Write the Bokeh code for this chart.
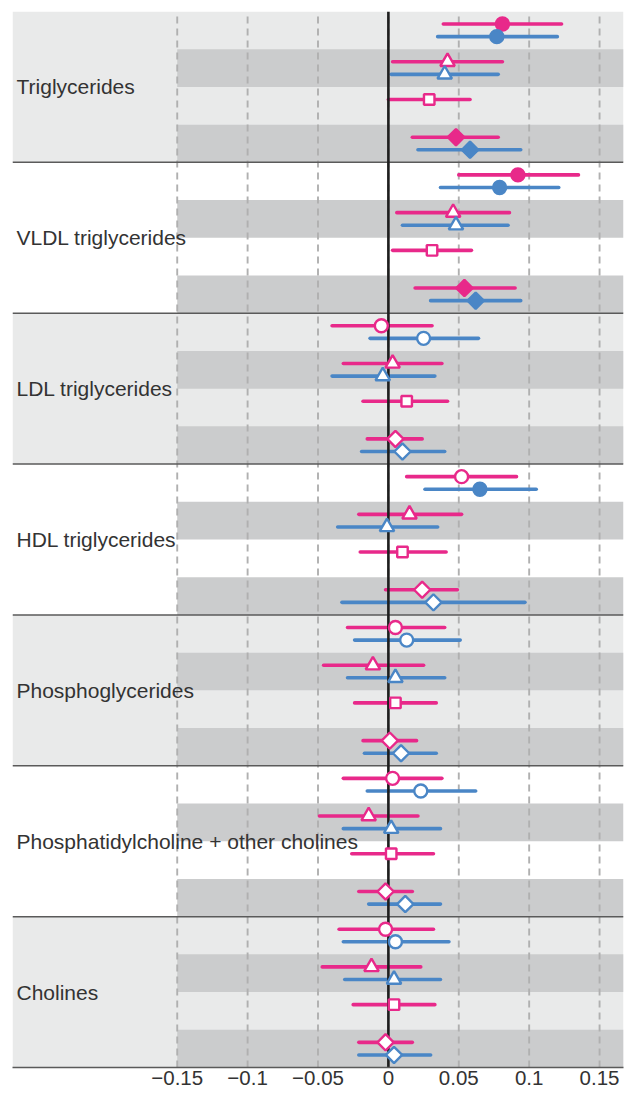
import numpy as np
from bokeh.plotting import figure
from bokeh.models import Range1d, ColumnDataSource, FixedTicker
from bokeh.core.properties import value
from bokeh.embed import file_html
from bokeh.resources import INLINE

groups = ["Triglycerides", "VLDL triglycerides", "LDL triglycerides", "HDL triglycerides",
          "Phosphoglycerides", "Phosphatidylcholine + other cholines", "Cholines"]
row_markers = ["circle", "triangle", "square", "diamond"]
x_ticks = [-0.15, -0.1, -0.05, 0, 0.05, 0.1, 0.15]
x_tick_labels = ["\u22120.15", "\u22120.1", "\u22120.05", "0", "0.05", "0.1", "0.15"]

# pink series (4 rows per group)
pink_est = [0.081, 0.042, 0.029, 0.048,
            0.092, 0.046, 0.031, 0.054,
            -0.005, 0.003, 0.013, 0.005,
            0.052, 0.015, 0.010, 0.024,
            0.005, -0.011, 0.005, 0.001,
            0.003, -0.014, 0.002, -0.002,
            -0.002, -0.012, 0.004, -0.002]
pink_lo = [0.039, 0.003, 0.000, 0.017,
           0.050, 0.006, 0.003, 0.019,
           -0.040, -0.032, -0.018, -0.015,
           0.013, -0.021, -0.020, -0.002,
           -0.029, -0.046, -0.024, -0.018,
           -0.032, -0.049, -0.026, -0.021,
           -0.035, -0.047, -0.025, -0.021]
pink_hi = [0.123, 0.081, 0.058, 0.078,
           0.135, 0.086, 0.059, 0.090,
           0.031, 0.038, 0.042, 0.024,
           0.091, 0.052, 0.041, 0.049,
           0.040, 0.025, 0.034, 0.020,
           0.038, 0.021, 0.032, 0.017,
           0.032, 0.023, 0.033, 0.017]
pink_filled = [1, 0, 0, 1,
               1, 0, 0, 1,
               0, 0, 0, 0,
               0, 0, 0, 0,
               0, 0, 0, 0,
               0, 0, 0, 0,
               0, 0, 0, 0]

# blue series (no value in the square row)
blue_est = [0.077, 0.040, None, 0.058,
            0.079, 0.048, None, 0.062,
            0.025, -0.004, None, 0.010,
            0.065, -0.001, None, 0.032,
            0.013, 0.005, None, 0.009,
            0.023, 0.002, None, 0.012,
            0.005, 0.004, None, 0.004]
blue_lo = [0.035, 0.002, None, 0.021,
           0.037, 0.010, None, 0.030,
           -0.013, -0.040, None, -0.019,
           0.026, -0.036, None, -0.033,
           -0.024, -0.029, None, -0.017,
           -0.015, -0.032, None, -0.014,
           -0.032, -0.031, None, -0.021]
blue_hi = [0.120, 0.078, None, 0.094,
           0.121, 0.085, None, 0.094,
           0.064, 0.033, None, 0.040,
           0.105, 0.035, None, 0.097,
           0.051, 0.040, None, 0.034,
           0.062, 0.037, None, 0.037,
           0.043, 0.037, None, 0.030]
blue_filled = [1, 0, 0, 1,
               1, 0, 0, 1,
               0, 0, 0, 0,
               1, 0, 0, 0,
               0, 0, 0, 0,
               0, 0, 0, 0,
               0, 0, 0, 0]

PINK = "#E8298A"
BLUE = "#4A86C6"
LIGHT = "#E9EAEA"
DARK = "#CBCCCD"
TEXT = "#333333"

n_groups = len(groups)
n_rows = 4 * n_groups
x_start, x_end = -0.267, 0.167
off = 0.167

p = figure(width=636, height=1093, output_backend="svg", toolbar_location=None,
           x_range=Range1d(x_start, x_end), y_range=Range1d(0, n_rows),
           min_border_left=12, min_border_right=13, min_border_top=11, min_border_bottom=26)
p.outline_line_color = None
p.xgrid.visible = False
p.ygrid.visible = False
p.yaxis.visible = False

# group backgrounds
g_top = [n_rows - 4 * g for g in range(n_groups)]
light_g = [g for g in range(n_groups) if g % 2 == 0]
p.quad(left=x_start, right=x_end, top=[g_top[g] for g in light_g],
       bottom=[g_top[g] - 4 for g in light_g], fill_color=LIGHT, line_color=None)
# darker row bands (rows 2 and 4 of each group)
dark_top = [n_rows - i for i in range(n_rows) if i % 4 in (1, 3)]
p.quad(left=x_ticks[0], right=x_end, top=dark_top, bottom=[t - 1 for t in dark_top],
       fill_color=DARK, line_color=None)

# dashed grid lines
p.segment(x0=x_ticks, x1=x_ticks, y0=0, y1=n_rows, line_color="#B0B0B0",
          line_width=1.9, line_dash="7 5")

# group separators
seps = [n_rows - 4 * g for g in range(1, n_groups)]
p.segment(x0=x_start, x1=x_end, y0=seps, y1=seps, line_color="#5A5A5A", line_width=1.5)


def series(est, lo, hi, filled, color, dy):
    rows = [i for i in range(n_rows) if est[i] is not None]
    y = [n_rows - i - 0.5 + dy for i in rows]
    kinds = [row_markers[i % 4] for i in rows]
    marker = ["square" if k == "diamond" else k for k in kinds]
    angle = [np.pi / 4 if k == "diamond" else 0.0 for k in kinds]
    size = [{"circle": 13, "triangle": 14.5, "square": 10.5, "diamond": 11.5}[k] for k in kinds]
    fill = [color if filled[i] else "white" for i in rows]
    return ColumnDataSource(dict(
        y=y, est=[est[i] for i in rows], lo=[lo[i] for i in rows], hi=[hi[i] for i in rows],
        marker=marker, angle=angle, size=size, fill=fill))


src_p = series(pink_est, pink_lo, pink_hi, pink_filled, PINK, off)
src_b = series(blue_est, blue_lo, blue_hi, blue_filled, BLUE, -off)

for src, col in ((src_p, PINK), (src_b, BLUE)):
    p.segment(x0="lo", x1="hi", y0="y", y1="y", source=src, line_color=col,
              line_width=3.6, line_cap="round")

# zero line
p.segment(x0=[0], x1=[0], y0=[0], y1=[n_rows], line_color="#1E1E1E", line_width=2.6)

for src, col in ((src_p, PINK), (src_b, BLUE)):
    p.scatter(x="est", y="y", source=src, marker="marker", size="size", angle="angle",
              fill_color="fill", line_color=col, line_width=2.4)

# group labels
p.text(x=[x_start] * n_groups, y=[t - 2 for t in g_top], text=groups, x_offset=4,
       text_font=value("Liberation Sans"), text_font_size="21px", text_baseline="middle",
       text_align="left", text_color=TEXT)

ax = p.xaxis[0]
ax.ticker = FixedTicker(ticks=x_ticks)
ax.major_label_overrides = dict(zip(x_ticks, x_tick_labels))
ax.major_tick_line_color = None
ax.minor_tick_line_color = None
ax.major_tick_out = 0
ax.major_tick_in = 0
ax.major_label_standoff = 3
ax.axis_line_color = "#5A5A5A"
ax.axis_line_width = 1.5
ax.major_label_text_font = "Liberation Sans"
ax.major_label_text_font_size = "20.5px"
ax.major_label_text_color = TEXT

open("out.html", "w").write(file_html(p, INLINE))
